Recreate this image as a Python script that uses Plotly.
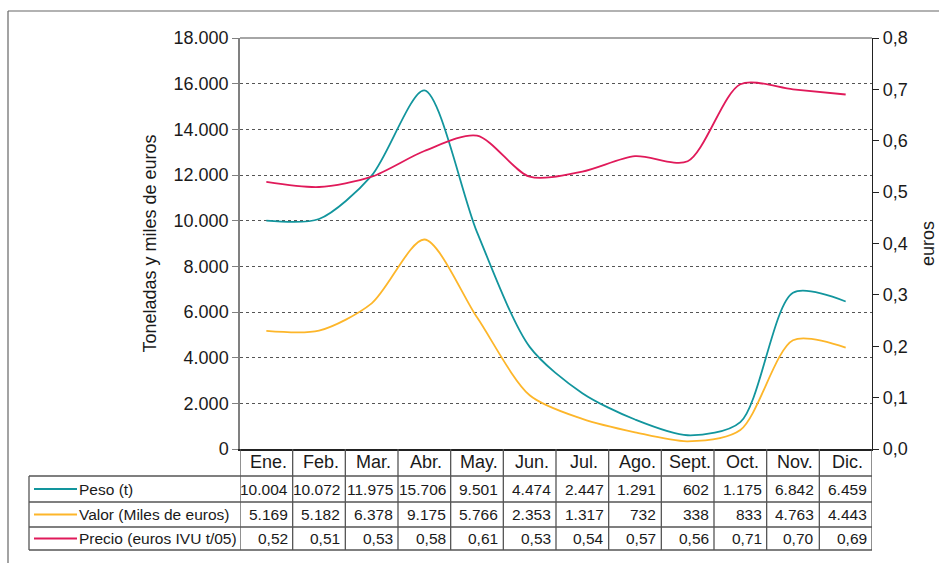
import plotly.graph_objects as go

months = ["Ene.", "Feb.", "Mar.", "Abr.", "May.", "Jun.", "Jul.", "Ago.", "Sept.", "Oct.", "Nov.", "Dic."]
peso = [10004, 10072, 11975, 15706, 9501, 4474, 2447, 1291, 602, 1175, 6842, 6459]
valor = [5169, 5182, 6378, 9175, 5766, 2353, 1317, 732, 338, 833, 4763, 4443]
precio = [0.52, 0.51, 0.53, 0.58, 0.61, 0.53, 0.54, 0.57, 0.56, 0.71, 0.70, 0.69]

series_names = ["Peso (t)", "Valor (Miles de euros)", "Precio (euros IVU t/05)"]
colors = ["#12959d", "#fdb62a", "#e01a5a"]

FONT = "Liberation Sans, Arial, sans-serif"
TXT = "#1a1a1a"
GRIDC = "#555555"
TABC = "#555555"

x = list(range(len(months)))

def fmt_int(v):
    return f"{v:,}".replace(",", ".")

def fmt_dec(v):
    return f"{v:.2f}".replace(".", ",")

fig = go.Figure()
fig.add_trace(go.Scatter(x=x, y=peso, mode="lines", line=dict(color=colors[0], width=1.8, shape="spline", smoothing=0.8),
                         name=series_names[0], yaxis="y"))
fig.add_trace(go.Scatter(x=x, y=valor, mode="lines", line=dict(color=colors[1], width=1.8, shape="spline", smoothing=0.8),
                         name=series_names[1], yaxis="y"))
fig.add_trace(go.Scatter(x=x, y=precio, mode="lines", line=dict(color=colors[2], width=1.8, shape="spline", smoothing=0.8),
                         name=series_names[2], yaxis="y2"))

# pixel -> paper helpers (plot area: x 240..872, y 38..449)
L, R, T, B = 240, 872, 38, 449
def px(xp):
    return (xp - L) / (R - L)
def py(yp):
    return (B - yp) / (B - T)

shapes = []
annotations = []

# outer frame
shapes.append(dict(type="line", xref="paper", yref="paper", x0=px(8), x1=px(945), y0=py(11), y1=py(11),
                   line=dict(color="#666666", width=1.2)))
shapes.append(dict(type="line", xref="paper", yref="paper", x0=px(8), x1=px(8), y0=py(11), y1=py(570),
                   line=dict(color="#666666", width=1.2)))
# top border of plot
shapes.append(dict(type="line", xref="paper", yref="paper", x0=0, x1=1, y0=1, y1=1,
                   line=dict(color="#888888", width=1.5)))

# table rows
row_lines = [476, 502, 527, 550]
for yy in row_lines:
    shapes.append(dict(type="line", xref="paper", yref="paper", x0=px(29), x1=1, y0=py(yy), y1=py(yy),
                       line=dict(color=TABC, width=1.3)))
shapes.append(dict(type="line", xref="paper", yref="paper", x0=px(29), x1=px(29), y0=py(476), y1=py(550),
                   line=dict(color=TABC, width=1.3)))
for k in range(len(months) + 1):
    shapes.append(dict(type="line", xref="x", yref="paper", x0=k - 0.5, x1=k - 0.5, y0=0, y1=py(550),
                       line=dict(color=TABC, width=1.3)))

# header months
for i, m in enumerate(months):
    annotations.append(dict(x=i, y=py(462.5), xref="x", yref="paper", text=m, showarrow=False,
                            xanchor="center", yanchor="middle", xshift=2,
                            font=dict(family=FONT, size=18, color=TXT)))

row_centers = [489, 514.5, 538.5]
row_vals = [[fmt_int(v) for v in peso], [fmt_int(v) for v in valor], [fmt_dec(v) for v in precio]]
for r in range(3):
    yc = py(row_centers[r])
    shapes.append(dict(type="line", xref="paper", yref="paper", x0=px(34), x1=px(77), y0=yc, y1=yc,
                       line=dict(color=colors[r], width=1.8)))
    annotations.append(dict(x=px(77), y=yc, xref="paper", yref="paper", text=series_names[r], showarrow=False,
                            xanchor="left", yanchor="middle", font=dict(family=FONT, size=15.5, color=TXT)))
    for i, t in enumerate(row_vals[r]):
        annotations.append(dict(x=i + 0.5, y=yc, xref="x", yref="paper", text=t, showarrow=False,
                                xanchor="right", yanchor="middle", xshift=-3,
                                font=dict(family=FONT, size=15.5, color=TXT)))

fig.update_layout(
    width=939, height=563,
    margin=dict(l=L, r=939 - R, t=T, b=563 - B),
    paper_bgcolor="white", plot_bgcolor="white",
    separators=",.",
    showlegend=False,
    font=dict(family=FONT, color=TXT),
    xaxis=dict(range=[-0.5, 11.5], showticklabels=False, showgrid=False, zeroline=False,
               showline=True, linecolor="#222222", linewidth=1.5, ticks="", automargin=False),
    yaxis=dict(range=[0, 18000], dtick=2000, tickformat=",d", showgrid=True, gridcolor=GRIDC,
               gridwidth=1, griddash="3px,3px", zeroline=False, showline=True, linecolor="#808080",
               linewidth=1.5, ticks="outside", ticklen=6, tickcolor="#808080", automargin=False,
               tickfont=dict(family=FONT, size=18, color=TXT),
               title=dict(text="Toneladas y miles de euros", font=dict(family=FONT, size=18, color=TXT), standoff=12)),
    yaxis2=dict(range=[0, 0.8], dtick=0.1, tickformat=".1f", overlaying="y", side="right",
                showgrid=False, zeroline=False, showline=True, linecolor="#222222", linewidth=1.3,
                ticks="outside", ticklen=6, tickcolor="#222222", automargin=False,
                tickfont=dict(family=FONT, size=18, color=TXT),
                title=dict(text="euros", font=dict(family=FONT, size=18, color=TXT), standoff=14)),
    shapes=shapes,
    annotations=annotations,
)

fig.write_html("out.html", config={"displayModeBar": False},
               post_script="document.body.style.margin='0';document.body.style.padding='0';")
